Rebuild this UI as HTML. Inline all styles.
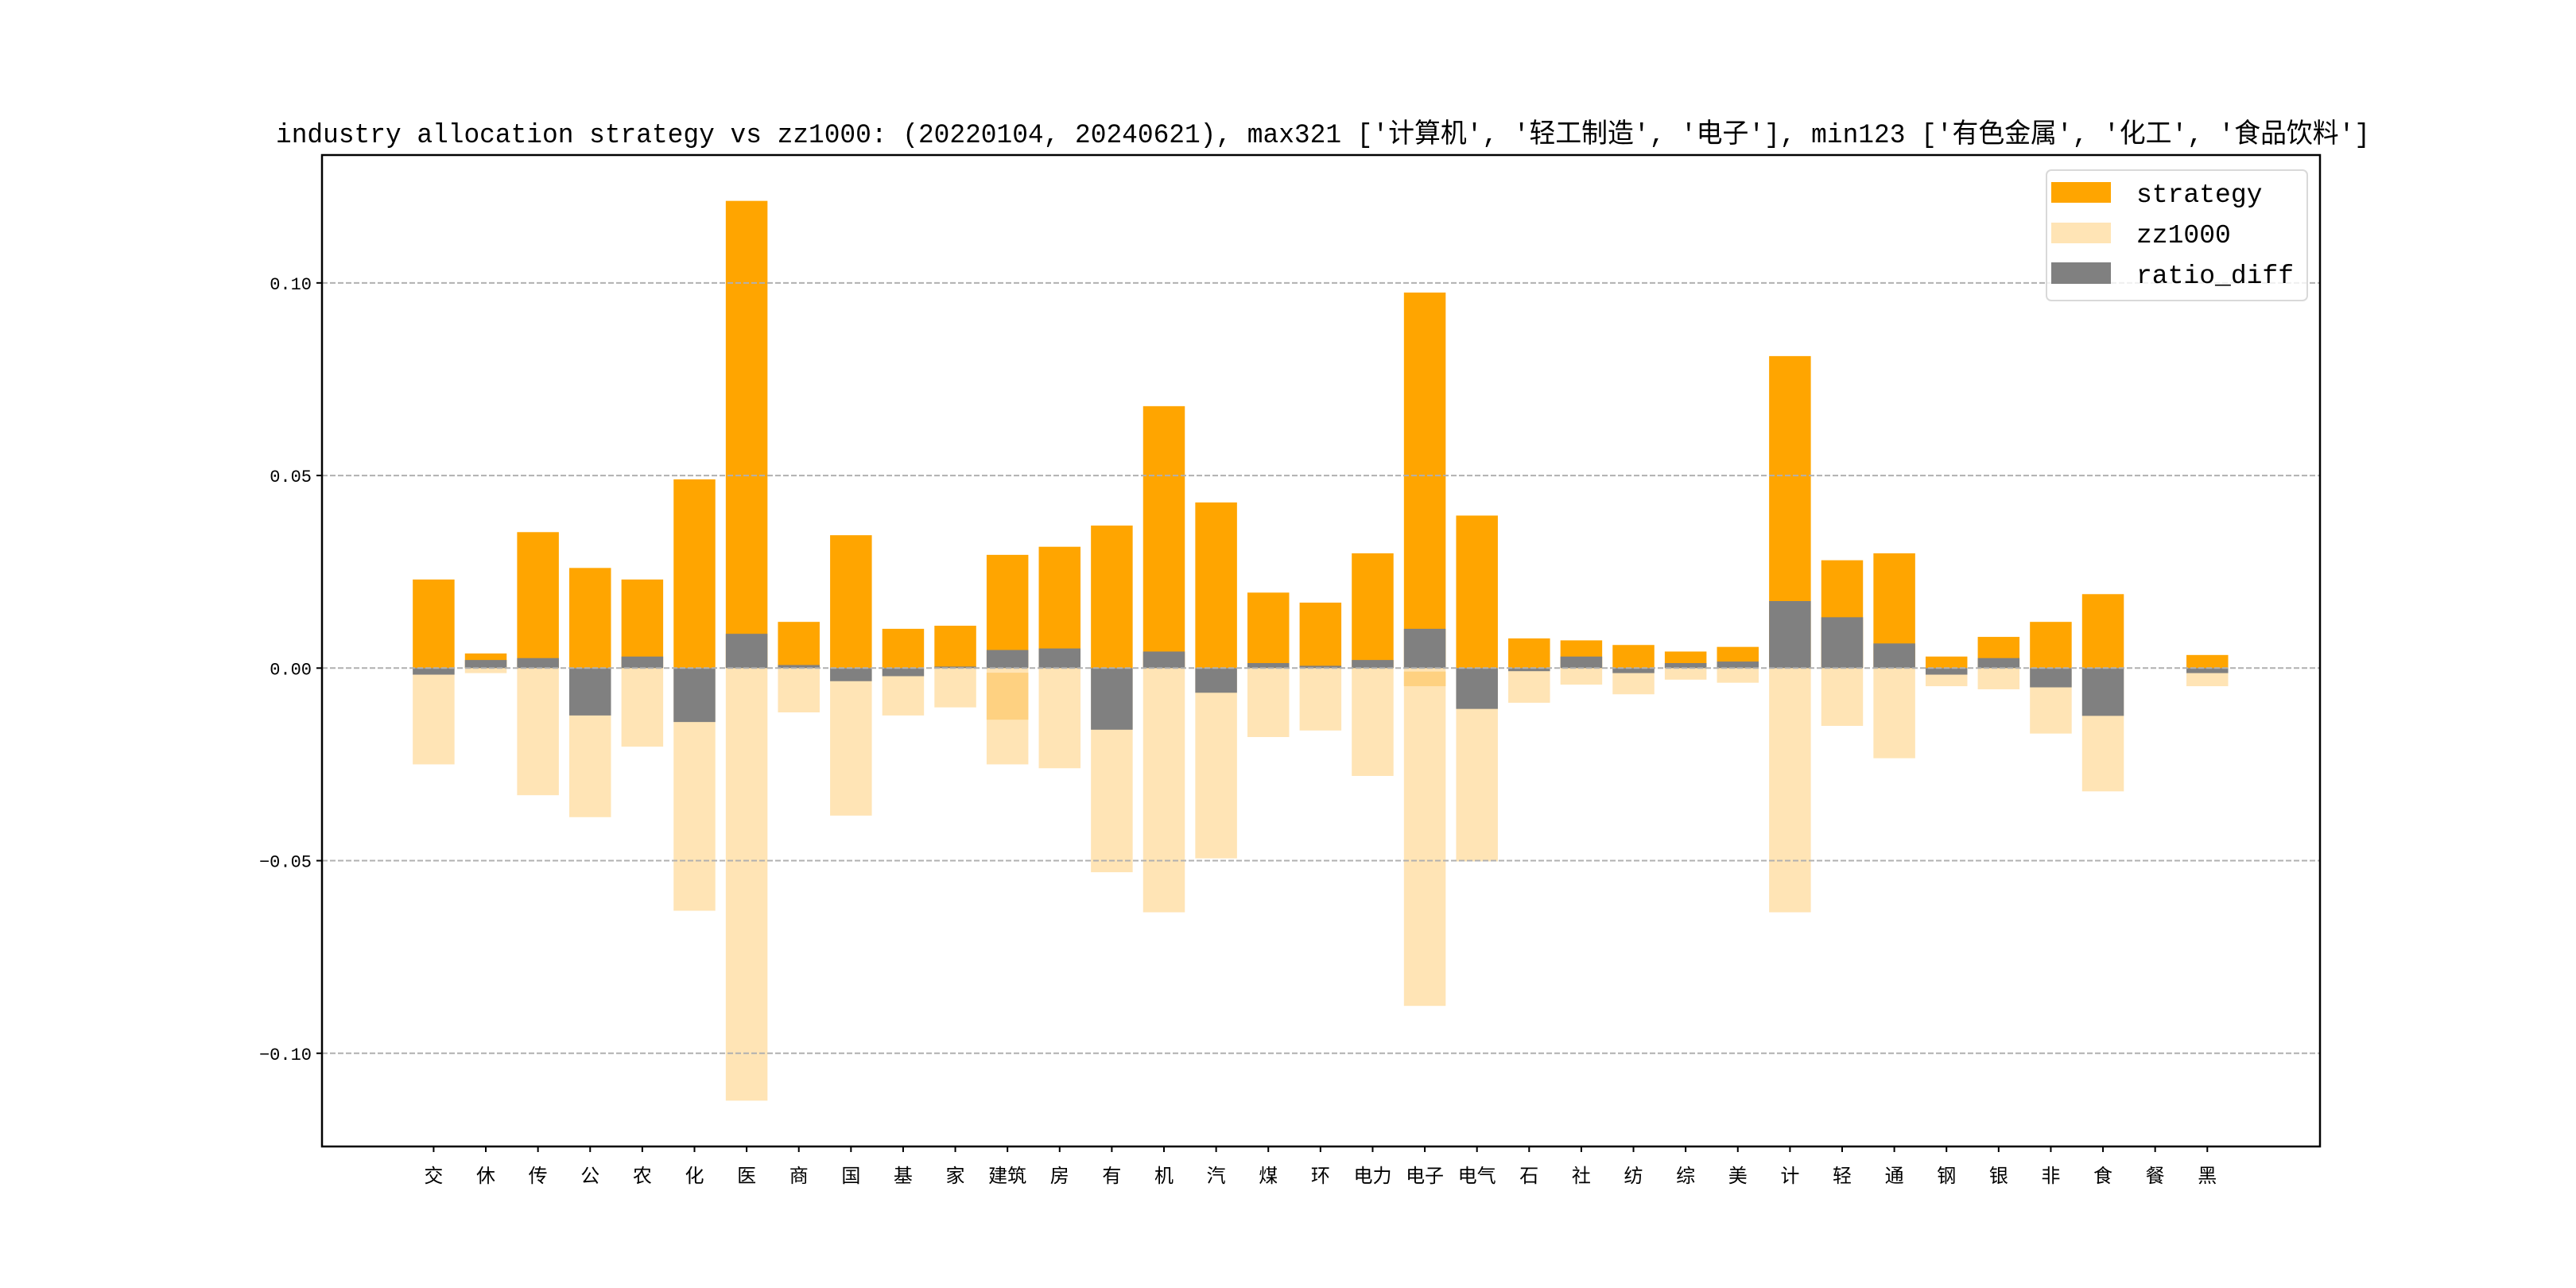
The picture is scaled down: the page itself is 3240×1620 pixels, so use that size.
<!DOCTYPE html>
<html><head><meta charset="utf-8">
<style>
html,body{margin:0;padding:0;background:#fff;}
svg{display:block;}
text{font-family:"Liberation Mono","Noto Sans CJK SC","WenQuanYi Zen Hei",monospace;}
</style></head>
<body>
<svg id="chart" width="3240" height="1620" viewBox="0 0 3240 1620" xmlns="http://www.w3.org/2000/svg">
<rect x="0" y="0" width="3240" height="1620" fill="#fff"/>
<text x="1664" y="179" font-size="34" text-anchor="middle" textLength="2634" lengthAdjust="spacingAndGlyphs">industry allocation strategy vs zz1000: (20220104, 20240621), max321 ['计算机', '轻工制造', '电子'], min123 ['有色金属', '化工', '食品饮料']</text>
<g id="bars"></g>
<g id="grid"></g>
<g id="axes"></g>
<g>
<rect x="2574" y="214" width="328" height="164" rx="6" fill="#fff" fill-opacity="0.8" stroke="#d9d9d9" stroke-width="2"/>
<rect x="2580" y="229" width="75" height="26" fill="#ffa500"/>
<text x="2687" y="254" font-size="33">strategy</text>
<rect x="2580" y="280" width="75" height="26" fill="#ffe4b5"/>
<text x="2687" y="305" font-size="33">zz1000</text>
<rect x="2580" y="330" width="75" height="27" fill="#808080"/>
<text x="2687" y="356" font-size="33">ratio_diff</text>
</g>
</svg>
<script>
const categories = ["交","休","传","公","农","化","医","商","国","基","家","建筑","房","有","机","汽","煤","环","电力","电子","电气","石","社","纺","综","美","计","轻","通","钢","银","非","食","餐","黑"];
const strategy = [0.023,0.0038,0.0353,0.026,0.023,0.049,0.1213,0.012,0.0345,0.0102,0.011,0.0294,0.0315,0.037,0.068,0.043,0.0196,0.017,0.0298,0.0975,0.0396,0.0077,0.0072,0.006,0.0043,0.0055,0.081,0.028,0.0298,0.003,0.0081,0.012,0.0192,0,0.0034];
const zz1000 = [-0.025,-0.0013,-0.033,-0.0387,-0.0204,-0.063,-0.1123,-0.0115,-0.0383,-0.0123,-0.0102,-0.025,-0.026,-0.053,-0.0634,-0.0494,-0.0179,-0.0162,-0.028,-0.0877,-0.0502,-0.009,-0.0043,-0.0068,-0.003,-0.0038,-0.0634,-0.015,-0.0234,-0.0047,-0.0055,-0.017,-0.032,0,-0.0047];
const ratioDiff = [-0.0017,0.0021,0.0026,-0.0123,0.003,-0.014,0.0089,0.0008,-0.0034,-0.0021,0.0004,0.0047,0.0051,-0.016,0.0043,-0.0064,0.0013,0.0006,0.0021,0.0102,-0.0106,-0.0008,0.003,-0.0013,0.0013,0.0017,0.0174,0.0132,0.0064,-0.0017,0.0026,-0.005,-0.0124,0,-0.0013];
const overlapCats = ["建筑","电子"];
const overlapTop = [-0.0012,-0.0009];
const overlapBottom = [-0.0134,-0.0047];
const yTicks = [0.10,0.05,0.00,-0.05,-0.10];
const yTickLabels = ["0.10","0.05","0.00","\u22120.05","\u22120.10"];

const NS = "http://www.w3.org/2000/svg";
const AX = {left:405, right:2918, top:195, bottom:1442};
const Y0 = -0.1242, Y1 = 0.1332;
const X0 = -2.14, X1 = categories.length + 1.16;
function xs(i){ return AX.left + (i - X0) / (X1 - X0) * (AX.right - AX.left); }
function ys(v){ return AX.bottom - (v - Y0) / (Y1 - Y0) * (AX.bottom - AX.top); }
const bw = 0.8 * (xs(1) - xs(0));
function mk(tag, attrs, parent){ const e = document.createElementNS(NS, tag); for (const k in attrs) e.setAttribute(k, attrs[k]); parent.appendChild(e); return e; }
function bar(i, a, b, fill, parent){
  const y1 = ys(Math.max(a,b)), y2 = ys(Math.min(a,b));
  return mk('rect', {x: xs(i) - bw/2, y: y1, width: bw, height: Math.max(0, y2 - y1), fill: fill}, parent);
}
const bars = document.getElementById('bars');
categories.forEach((c,i)=>{
  const r1 = bar(i, 0, strategy[i], '#ffa500', bars);
  
  
});
categories.forEach((c,i)=>{
  const r2 = bar(i, 0, zz1000[i], '#ffe4b5', bars);
  
  
});
overlapCats.forEach((c,k)=>{
  const i = categories.indexOf(c);
  const r4 = bar(i, overlapTop[k], overlapBottom[k], '#fed181', bars);
  
  
});
categories.forEach((c,i)=>{
  const r3 = bar(i, 0, ratioDiff[i], '#808080', bars);
  
  
});
const grid = document.getElementById('grid');
const axes = document.getElementById('axes');
yTicks.forEach((t,k)=>{
  const y = ys(t);
  const g = mk('line', {x1: AX.left, x2: AX.right, y1: y, y2: y, stroke: '#b0b0b0', 'stroke-width': 2, 'stroke-dasharray': '7,3'}, grid);
  
  
  const tk = mk('line', {x1: AX.left - 7, x2: AX.left, y1: y, y2: y, stroke: '#000', 'stroke-width': 2}, axes);
  
  
  const tl = mk('text', {x: AX.left - 13, y: y + 8, 'font-size': 22, 'text-anchor': 'end'}, axes);
  tl.textContent = yTickLabels[k];
  
  
});
categories.forEach((c,i)=>{
  const x = xs(i);
  const tk = mk('line', {x1: x, x2: x, y1: AX.bottom, y2: AX.bottom + 7, stroke: '#000', 'stroke-width': 2}, axes);
  
  
  const tl = mk('text', {x: x, y: AX.bottom + 45, 'font-size': 24, 'text-anchor': 'middle'}, axes);
  tl.textContent = c;
  
  
});
const frame = mk('rect', {x: AX.left, y: AX.top, width: AX.right - AX.left, height: AX.bottom - AX.top, fill: 'none', stroke: '#000', 'stroke-width': 2.5}, axes);


</script>
</body></html>
